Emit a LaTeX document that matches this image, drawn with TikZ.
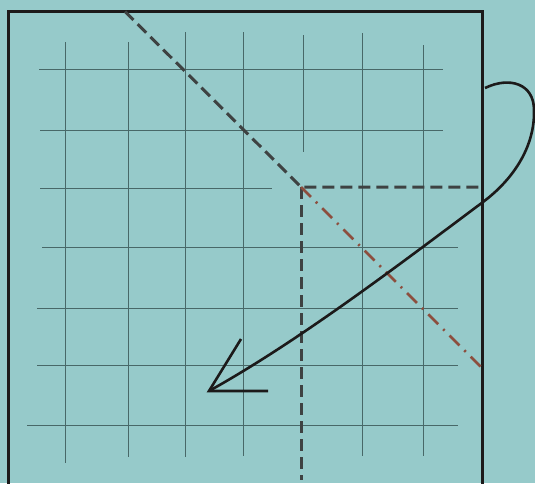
\documentclass[tikz,border=0pt]{standalone}
\definecolor{bgteal}{RGB}{150,202,202}
\definecolor{gridc}{RGB}{72,104,104}
\definecolor{dashc}{RGB}{62,66,66}
\definecolor{rust}{RGB}{140,78,62}
\definecolor{inkc}{RGB}{28,26,26}
\tikzset{
  gridline/.style={draw=gridc,line width=1pt},
  frameline/.style={draw=inkc,line width=3pt},
  guide/.style={draw=dashc,line width=3pt,dash pattern=on 12pt off 6pt},
  rustguide/.style={draw=rust,line width=2.5pt,dash pattern=on 14pt off 7pt on 2pt off 7pt},
  sweep/.style={draw=inkc,line width=2.6pt}
}
\begin{document}
\begin{tikzpicture}[x=1pt,y=-1pt]
    \clip (0,0) rectangle (535,483);
    \fill[bgteal] (0,0) rectangle (535,483);
    % grid
    \foreach \gx/\ga/\gb in {65/42/463,128/42/457,185/32/457,243/32/456,303/35/152,362/33/456,423/45/456}
      \draw[gridline] (\gx,\ga) -- (\gx,\gb);
    \foreach \gy/\ga/\gb in {69/39/443,130/40/443,188/40/272,247/42/458,308/37/458,365/37/458,425/27/458}
      \draw[gridline] (\ga,\gy) -- (\gb,\gy);
    % frame
    \draw[frameline] (8.5,495) -- (8.5,11.5) -- (482.5,11.5) -- (482.5,495);
    % guides
    \coordinate (top) at (125,11.5);
    \coordinate (knee) at (301,187);
    \coordinate (east) at (482,187);
    \coordinate (south) at (301,480);
    \coordinate (rim) at (482,368);
    \draw[guide] (top) -- (knee) -- (east);
    \draw[guide] (knee) -- (south);
    \draw[rustguide] (knee) -- (rim);
    % sweep arrow
    \coordinate (start) at (485,88);
    \coordinate (bulge) at (534,110);
    \coordinate (cross) at (483,202);
    \coordinate (tip) at (209,391);
    \coordinate (barbup) at (241,339);
    \coordinate (barbflat) at (268,391);
    \draw[sweep] (start) .. controls (510,76) and (534,84) .. (bulge)
      .. controls (535,145) and (515,178) .. (cross)
      .. controls (400,264) and (299,341) .. (tip);
    \draw[sweep] (barbup) -- (tip) -- (barbflat);
  \end{tikzpicture}
\end{document}
